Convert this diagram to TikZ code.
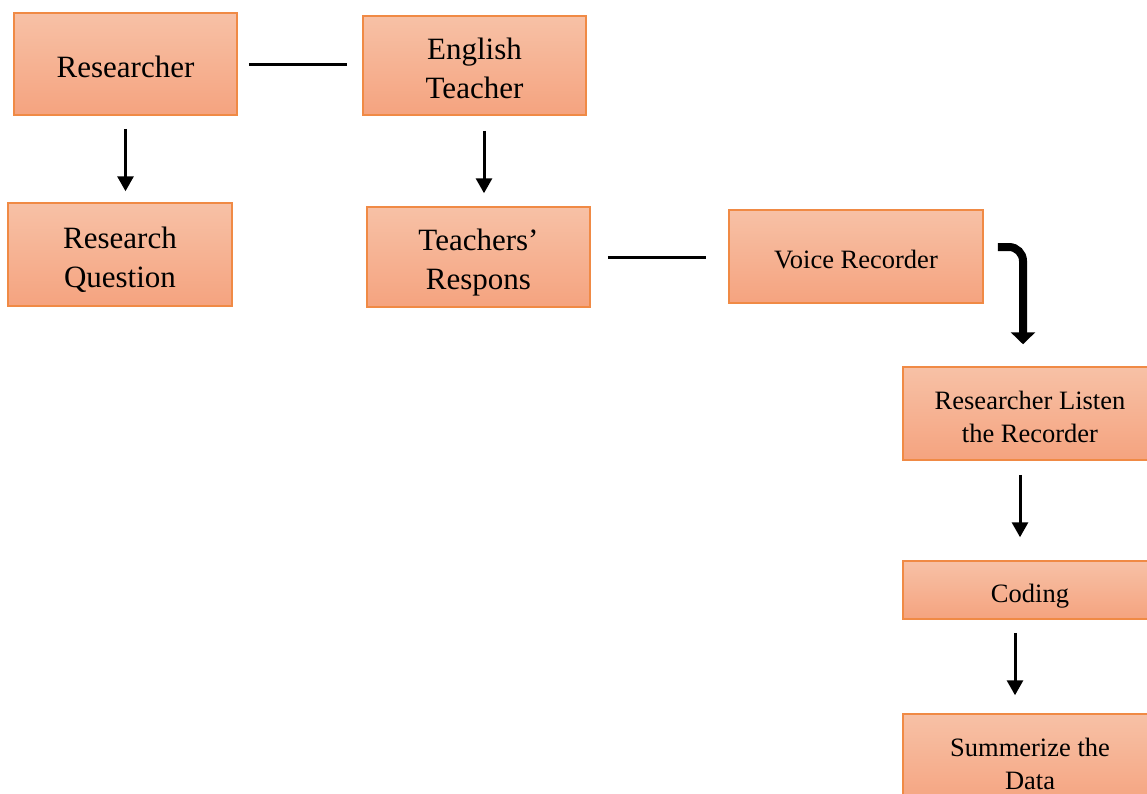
\documentclass[tikz,border=0pt]{standalone}
\usepackage{fontspec}
\setmainfont{Liberation Serif}
\usetikzlibrary{arrows.meta}
\definecolor{saumonhaut}{HTML}{F7C1A6}
\definecolor{saumonbas}{HTML}{F5A37F}
\definecolor{bordorange}{HTML}{F08A45}
\newcommand{\etiq}[1]{\raisebox{-5.5pt}[\height][\depth]{\begin{tabular}{@{}c@{}}#1\end{tabular}}}
\tikzset{
  boite/.style={draw=bordorange, line width=1.5pt, top color=saumonhaut, bottom color=saumonbas,
    inner sep=0pt, font=\fontsize{31}{39}\selectfont},
  petite/.style={boite, font=\fontsize{26.5}{33}\selectfont},
  trait/.style={line width=3pt},
  fleche/.style={line width=3pt, -{Triangle[width=16pt,length=15pt]}},
}
\begin{document}
\begin{tikzpicture}[x=1pt,y=-1pt]
        \clip (0,0) rectangle (1147,793);
        \node[boite, minimum width=223pt, minimum height=102pt] (chercheur) at (125.5,64) {\etiq{Researcher}};
        \node[boite, minimum width=223pt, minimum height=99pt] (prof) at (474.5,65.5) {\etiq{English\\Teacher}};
        \node[boite, minimum width=224pt, minimum height=103pt] (question) at (120,254.5) {\etiq{Research\\Question}};
        \node[boite, minimum width=223pt, minimum height=100pt] (reponse) at (478.5,257) {\etiq{Teachers’\\Respons}};
        \node[petite, minimum width=254pt, minimum height=93pt] (voix) at (856,256.5) {\etiq{Voice Recorder}};
        \node[petite, minimum width=254pt, minimum height=93pt] (ecoute) at (1030,413.5) {\etiq{Researcher Listen\\the Recorder}};
        \node[petite, minimum width=254pt, minimum height=58pt] (codage) at (1030,590) {\etiq{Coding}};
        \node[petite, minimum width=254pt, minimum height=93pt] (resume) at (1030,760.5) {\etiq{Summerize the\\Data}};
        \draw[trait, shorten <=11pt, shorten >=15pt] (chercheur.east) -- (chercheur.east -| prof.west);
        \draw[trait, shorten <=17pt, shorten >=22pt] (reponse.east) -- (reponse.east -| voix.west);
        \draw[fleche, shorten <=13pt, shorten >=11pt] (chercheur.south) -- (chercheur.south |- question.north);
        \draw[fleche, shorten <=15pt, shorten >=13pt] ([xshift=9.5pt]prof.south) -- ([xshift=9.5pt]prof.south |- reponse.north);
        \draw[line width=8pt, rounded corners=14pt, -{Triangle[width=24pt,length=12pt]}]
            ([xshift=14pt,yshift=9.5pt]voix.east) -| ([xshift=-7pt,yshift=22pt]ecoute.north);
        \draw[fleche, shorten <=14pt, shorten >=23pt] ([xshift=-10pt]ecoute.south) -- ([xshift=-10pt]ecoute.south |- codage.north);
        \draw[fleche, shorten <=13pt, shorten >=18pt] ([xshift=-15pt]codage.south) -- ([xshift=-15pt]codage.south |- resume.north);
\end{tikzpicture}
\end{document}
